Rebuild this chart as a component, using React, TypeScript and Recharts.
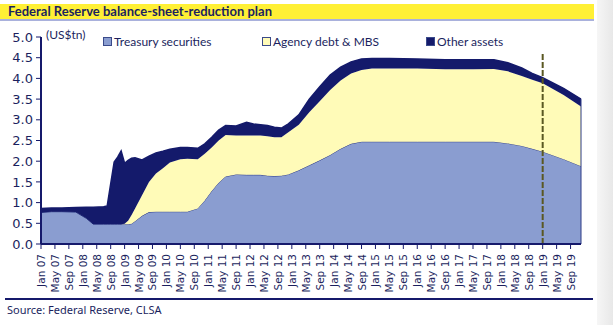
import React from "react";
import { AreaChart, Area, XAxis, YAxis, ReferenceLine } from "recharts";

const months = [
  "2007-01", "2007-04", "2007-07", "2007-11", "2008-02", "2008-04", "2008-07", "2008-08",
  "2008-09", "2008-10", "2008-11", "2008-12", "2009-01", "2009-02", "2009-03", "2009-04",
  "2009-06", "2009-08", "2009-10", "2009-12", "2010-02", "2010-05", "2010-07", "2010-10",
  "2010-12", "2011-02", "2011-04", "2011-06", "2011-09", "2011-12", "2012-02", "2012-04",
  "2012-06", "2012-08", "2012-10", "2012-12", "2013-03", "2013-06", "2013-09", "2013-12",
  "2014-03", "2014-06", "2014-09", "2014-12", "2015-05", "2016-01", "2016-09", "2017-05",
  "2017-11", "2018-03", "2018-07", "2018-10", "2019-01", "2019-07", "2019-12",
];
const treasury = [
  0.76, 0.78, 0.78, 0.77, 0.62, 0.48, 0.48, 0.48,
  0.48, 0.48, 0.48, 0.48, 0.48, 0.48, 0.49, 0.55,
  0.68, 0.77, 0.78, 0.78, 0.78, 0.78, 0.78, 0.86,
  1.05, 1.28, 1.48, 1.63, 1.68, 1.67, 1.67, 1.67,
  1.65, 1.64, 1.65, 1.68, 1.78, 1.9, 2.02, 2.15,
  2.3, 2.42, 2.47, 2.47, 2.47, 2.47, 2.47, 2.47,
  2.47, 2.43, 2.37, 2.3, 2.23, 2.05, 1.88,
];
const agencyMbs = [
  0, 0, 0, 0, 0, 0, 0, 0,
  0, 0, 0, 0, 0.01, 0.08, 0.21, 0.31,
  0.5, 0.73, 0.92, 1.05, 1.19, 1.27, 1.28, 1.19,
  1.13, 1.05, 1.02, 1.0, 0.94, 0.95, 0.95, 0.95,
  0.95, 0.94, 0.93, 1.02, 1.1, 1.28, 1.43, 1.57,
  1.65, 1.7, 1.73, 1.77, 1.77, 1.77, 1.75, 1.75,
  1.76, 1.74, 1.69, 1.67, 1.65, 1.55, 1.44,
];
const otherAssets = [
  0.1, 0.09, 0.09, 0.11, 0.27, 0.41, 0.42, 0.44,
  0.97, 1.5, 1.62, 1.77, 1.46, 1.46, 1.37, 1.22,
  0.85, 0.62, 0.5, 0.41, 0.32, 0.28, 0.27, 0.26,
  0.24, 0.25, 0.25, 0.23, 0.23, 0.32, 0.28, 0.26,
  0.26, 0.24, 0.22, 0.2, 0.24, 0.32, 0.35, 0.36,
  0.32, 0.28, 0.27, 0.24, 0.24, 0.23, 0.23, 0.23,
  0.22, 0.21, 0.19, 0.15, 0.14, 0.16, 0.18,
];
const tickLabels = [
  "Jan 07", "May 07", "Sep 07", "Jan 08", "May 08", "Sep 08", "Jan 09", "May 09", "Sep 09",
  "Jan 10", "May 10", "Sep 10", "Jan 11", "May 11", "Sep 11", "Jan 12", "May 12", "Sep 12",
  "Jan 13", "May 13", "Sep 13", "Jan 14", "May 14", "Sep 14", "Jan 15", "May 15", "Sep 15",
  "Jan 16", "May 16", "Sep 16", "Jan 17", "May 17", "Sep 17", "Jan 18", "May 18", "Sep 18",
  "Jan 19", "May 19", "Sep 19",
];
const yTicks = [0, 0.5, 1, 1.5, 2, 2.5, 3, 3.5, 4, 4.5, 5];
const planStart = "2019-01";

const monthIndex = (s: string) => {
  const [y, m] = s.split("-").map(Number);
  return (y - 2007) * 12 + (m - 1);
};

const data = months.map((s, i) => ({
  m: monthIndex(s),
  treasury: treasury[i],
  agency: agencyMbs[i],
  other: otherAssets[i],
}));
const xTicks = tickLabels.map((_, i) => i * 4);
const lastIdx = months.length - 1;
const lastM = monthIndex(months[lastIdx]);
const lastTotal = treasury[lastIdx] + agencyMbs[lastIdx] + otherAssets[lastIdx];

const NAVY = "#15196b";
const TXT = "#1b1f5e";
const C_TREAS = "#8a9dd0";
const C_AGENCY = "#fffbb8";
const C_OTHER = "#141a6b";

const XTick = (props: any) => {
  const { x, y, payload } = props;
  const label = tickLabels[Math.round(payload.value / 4)] ?? "";
  return (
    <g transform={`translate(${x + 4},${y + 3})`}>
      <text
        transform="rotate(-90)"
        textAnchor="end"
        fontSize={10.5}
        fontFamily="DejaVu Sans"
        fill={TXT}
      >
        {label}
      </text>
    </g>
  );
};

const LegendItem = ({ left, color, label }: { left: number; color: string; label: string }) => (
  <div style={{ position: "absolute", left, top: 34, display: "flex", alignItems: "center" }}>
    <div
      style={{
        width: 7,
        height: 7,
        background: color,
        border: "1px solid #3a4a8a",
        marginRight: 2,
      }}
    />
    <span style={{ fontFamily: "Lato", fontSize: 12, color: TXT }}>{label}</span>
  </div>
);

export default function App() {
  return (
    <div style={{ position: "absolute", left: 0, top: 0, width: 613, height: 325, background: "#fff", overflow: "hidden" }}>
      <div style={{ position: "absolute", left: 597, top: 0, width: 16, height: 325, background: "linear-gradient(to right, #f6f6f6, #e8e8e8)" }} />
      <div style={{ position: "absolute", left: 0, top: 4, width: 594, height: 15, background: "#fff035" }} />
      <div style={{ position: "absolute", left: 0, top: 19, width: 594, height: 2, background: "#a9b1dc" }} />
      <div
        style={{
          position: "absolute",
          left: 8,
          top: 3,
          fontFamily: "Lato",
          fontWeight: 700,
          fontSize: 13,
          color: TXT,
          lineHeight: "17px",
          whiteSpace: "nowrap",
        }}
      >
        Federal Reserve balance-sheet-reduction plan
      </div>
      <div style={{ position: "absolute", left: 46, top: 27, fontFamily: "Lato", fontSize: 12, color: TXT }}>(US$tn)</div>
      <LegendItem left={103} color={C_TREAS} label="Treasury securities" />
      <LegendItem left={262} color={C_AGENCY} label="Agency debt & MBS" />
      <LegendItem left={426} color={C_OTHER} label="Other assets" />
      <div style={{ position: "absolute", left: 0, top: 0 }}>
        <AreaChart width={613} height={325} data={data} margin={{ top: 37, right: 32, bottom: 0, left: 0 }}>
          <XAxis
            dataKey="m"
            type="number"
            domain={[0, lastM]}
            ticks={xTicks}
            interval={0}
            tick={<XTick />}
            tickSize={5}
            height={81}
            axisLine={{ stroke: NAVY, strokeWidth: 2 }}
            tickLine={{ stroke: NAVY }}
          />
          <YAxis
            domain={[0, 5]}
            ticks={yTicks}
            interval={0}
            width={41}
            tickSize={5}
            tickMargin={3}
            tickFormatter={(v: number) => v.toFixed(1)}
            tick={{ fill: TXT, fontSize: 13, fontFamily: "DejaVu Sans" }}
            axisLine={{ stroke: NAVY, strokeWidth: 2 }}
            tickLine={{ stroke: NAVY }}
          />
          <Area
            type="linear"
            dataKey="treasury"
            stackId="a"
            fill={C_TREAS}
            fillOpacity={1}
            stroke="#2c3a86"
            strokeWidth={1}
            isAnimationActive={false}
          />
          <Area
            type="linear"
            dataKey="agency"
            stackId="a"
            fill={C_AGENCY}
            fillOpacity={1}
            stroke="none"
            isAnimationActive={false}
          />
          <Area
            type="linear"
            dataKey="other"
            stackId="a"
            fill={C_OTHER}
            fillOpacity={1}
            stroke={C_OTHER}
            strokeWidth={1.5}
            isAnimationActive={false}
          />
          <ReferenceLine
            segment={[{ x: lastM, y: 0 }, { x: lastM, y: lastTotal }]}
            stroke="#2c3a86"
            strokeWidth={1}
          />
          <ReferenceLine
            segment={[{ x: monthIndex(planStart), y: 0 }, { x: monthIndex(planStart), y: 4.62 }]}
            stroke="#5a5822"
            strokeWidth={2}
            strokeDasharray="6 2"
          />
        </AreaChart>
      </div>
      <div style={{ position: "absolute", left: 5, top: 298, width: 588, height: 2, background: NAVY }} />
      <div style={{ position: "absolute", left: 7, top: 302, fontFamily: "Noto Sans", fontSize: 11, color: TXT }}>
        Source: Federal Reserve, CLSA
      </div>
    </div>
  );
}
